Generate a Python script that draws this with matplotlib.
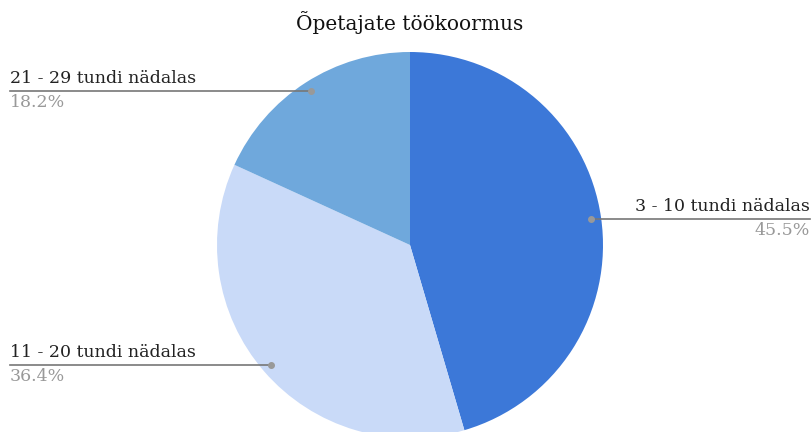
import numpy as np
import matplotlib
matplotlib.use("Agg")
import matplotlib.pyplot as plt

title = "Õpetajate töökoormus"
categories = ["3 - 10 tundi nädalas", "11 - 20 tundi nädalas", "21 - 29 tundi nädalas"]
values = [45.5, 36.4, 18.2]
colors = ["#3c78d8", "#c9daf8", "#6fa8dc"]

W, H = 812, 432
fig = plt.figure(figsize=(W / 100, H / 100), dpi=100)
ax = fig.add_axes([0, 0, 1, 1])
ax.set_xlim(0, W)
ax.set_ylim(0, H)
ax.axis("off")

cx, cy, r = 410, 187, 193
wedges, _ = ax.pie(values, colors=colors, startangle=90, counterclock=False,
                   center=(cx, cy), radius=r, frame=True,
                   wedgeprops=dict(linewidth=0))
ax.set_xlim(0, W)
ax.set_ylim(0, H)
ax.axis("off")

font = "DejaVu Serif"
total = sum(values)
for w, label, v in zip(wedges, categories, values):
    ang = np.deg2rad((w.theta1 + w.theta2) / 2)
    px = cx + 0.95 * r * np.cos(ang)
    py = cy + 0.95 * r * np.sin(ang)
    if np.cos(ang) > 0:
        tx, ha = W - 2, "right"
    else:
        tx, ha = 10, "left"
    ax.plot([px, tx], [py, py], color="#777777", lw=1.2, zorder=3, clip_on=False)
    ax.plot(px, py, "o", color="#999999", ms=4, zorder=4)
    ax.text(tx, py + 4, label, ha=ha, va="bottom", fontsize=12.5,
            family=font, color="#222222")
    ax.text(tx, py - 3, f"{100 * v / total:.1f}%", ha=ha, va="top",
            fontsize=12.5, family=font, color="#999999")

fig.text(410 / W, 1 - 22 / H, title, ha="center", va="center",
         fontsize=14.5, family=font, color="#111111")

fig.savefig("out.png", dpi=100)
